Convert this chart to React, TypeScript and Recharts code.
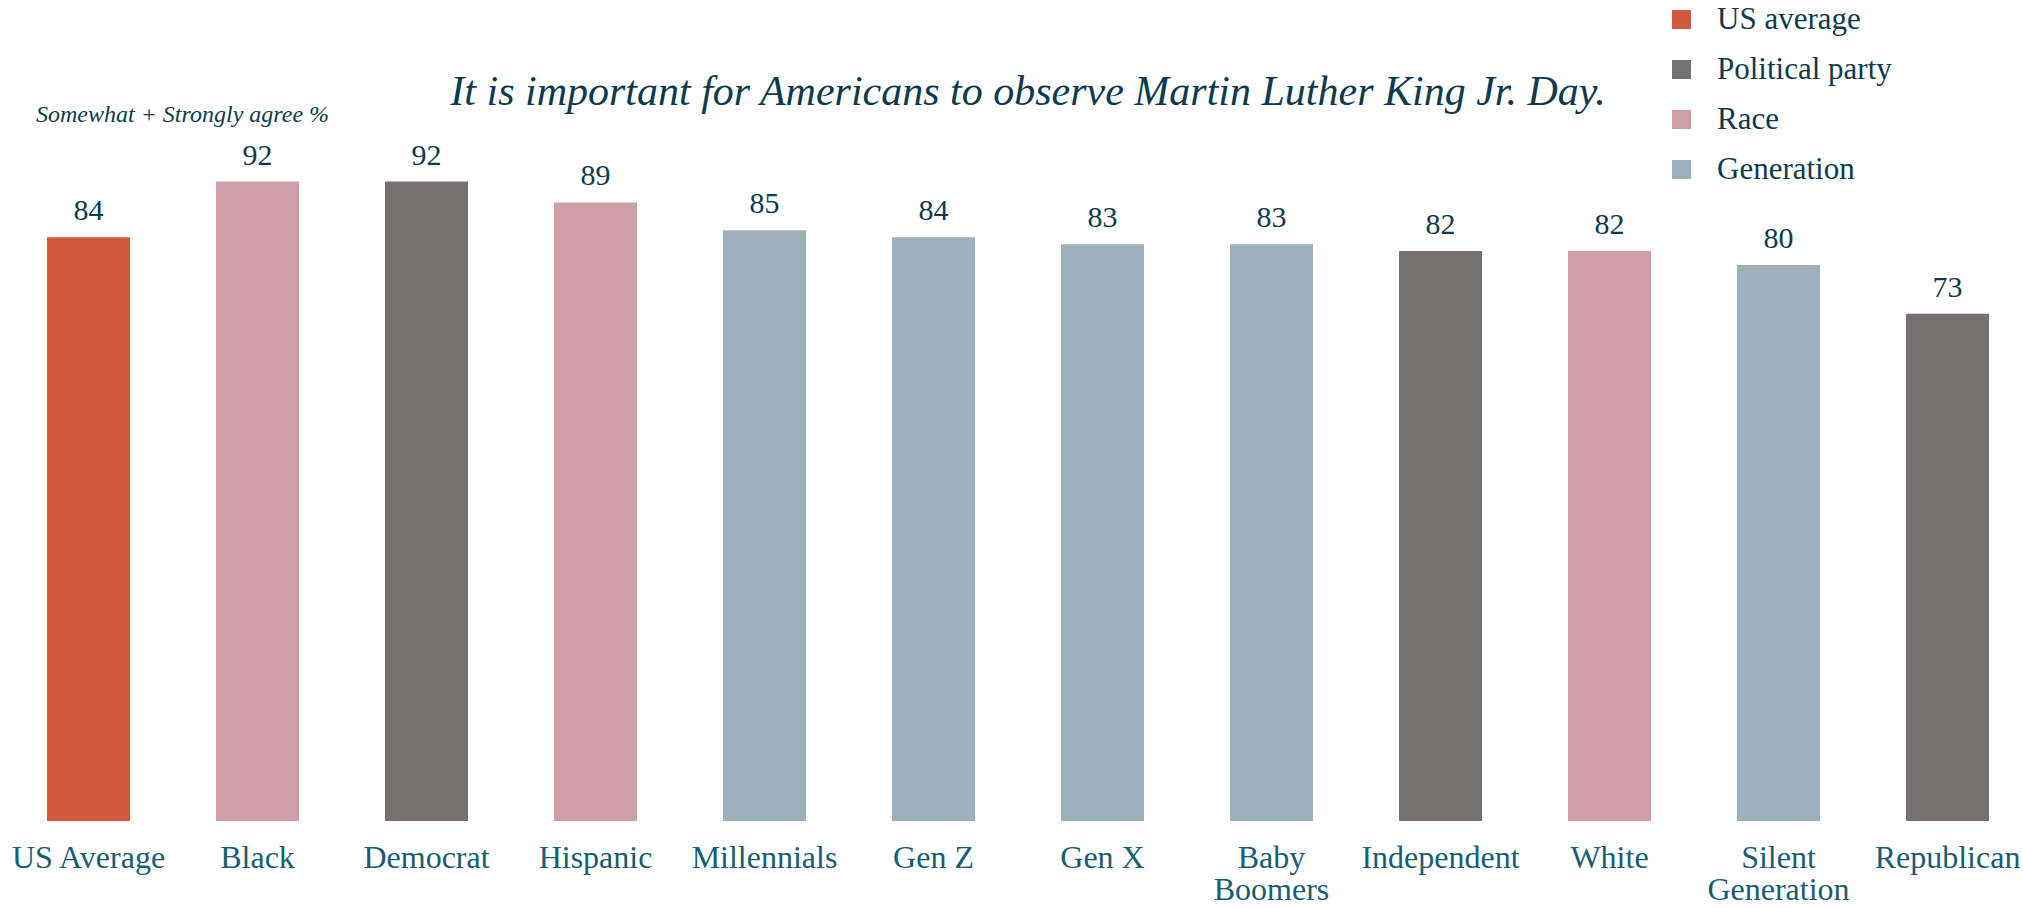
import { BarChart, Bar, XAxis, YAxis, Cell, LabelList } from 'recharts';

const categories = [
  'US Average',
  'Black',
  'Democrat',
  'Hispanic',
  'Millennials',
  'Gen Z',
  'Gen X',
  'Baby\nBoomers',
  'Independent',
  'White',
  'Silent\nGeneration',
  'Republican',
];
const agreeValues = [84, 92, 92, 89, 85, 84, 83, 83, 82, 82, 80, 73];
const groupOf = [
  'US average',
  'Race',
  'Political party',
  'Race',
  'Generation',
  'Generation',
  'Generation',
  'Generation',
  'Political party',
  'Race',
  'Generation',
  'Political party',
];
const groups = ['US average', 'Political party', 'Race', 'Generation'];

const groupColors: Record<string, string> = {
  'US average': '#d05a3b',
  'Political party': '#757170',
  Race: '#d09ea6',
  Generation: '#9db0bb',
};

const FONT = '"Liberation Serif", serif';
const DARK = '#0d3a4e';
const TEAL = '#175e72';

const chartData = categories.map((name, i) => ({
  name,
  value: agreeValues[i],
  group: groupOf[i],
}));

const CategoryTick = (props: any) => {
  const { x, y, payload } = props;
  const lines = String(payload.value).split('\n');
  return (
    <g transform={`translate(${x},${y})`}>
      {lines.map((line, i) => (
        <text
          key={i}
          x={0}
          y={39 + i * 32}
          textAnchor="middle"
          fill={TEAL}
          fontSize={32}
          fontFamily={FONT}
        >
          {line}
        </text>
      ))}
    </g>
  );
};

const App = () => {
  return (
    <div
      style={{
        position: 'absolute',
        left: 0,
        top: 0,
        width: 2023,
        height: 908,
        overflow: 'hidden',
        background: '#fff',
      }}
    >
      <div
        style={{
          position: 'absolute',
          left: 428,
          top: 67,
          width: 1200,
          textAlign: 'center',
          fontFamily: FONT,
          fontStyle: 'italic',
          fontSize: 42,
          color: DARK,
          whiteSpace: 'nowrap',
        }}
      >
        It is important for Americans to observe Martin Luther King Jr. Day.
      </div>
      <div
        style={{
          position: 'absolute',
          left: 36,
          top: 101,
          fontFamily: FONT,
          fontStyle: 'italic',
          fontSize: 24,
          color: DARK,
          whiteSpace: 'nowrap',
        }}
      >
        Somewhat + Strongly agree %
      </div>
      {/* legend, drawn from the groups list */}
      <div style={{ position: 'absolute', left: 1672, top: -6, fontFamily: FONT }}>
        {groups.map((g) => (
          <div key={g} style={{ display: 'flex', alignItems: 'center', height: 50 }}>
            <span style={{ width: 19, height: 19, background: groupColors[g], marginRight: 26 }} />
            <span style={{ fontSize: 31, color: DARK }}>{g}</span>
          </div>
        ))}
      </div>
      <BarChart
        width={2040}
        height={908}
        data={chartData}
        margin={{ top: 126, right: 8, bottom: 0, left: 4 }}
      >
        <XAxis
          dataKey="name"
          axisLine={false}
          tickLine={false}
          interval={0}
          height={87}
          tick={<CategoryTick />}
        />
        <YAxis hide domain={[0, 100]} />
        <Bar dataKey="value" barSize={83} isAnimationActive={false}>
          {chartData.map((d, i) => (
            <Cell key={i} fill={groupColors[d.group]} />
          ))}
          <LabelList
            dataKey="value"
            position="top"
            offset={17}
            fill={DARK}
            fontSize={30}
            fontFamily={FONT}
          />
        </Bar>
      </BarChart>
    </div>
  );
};

export default App;
